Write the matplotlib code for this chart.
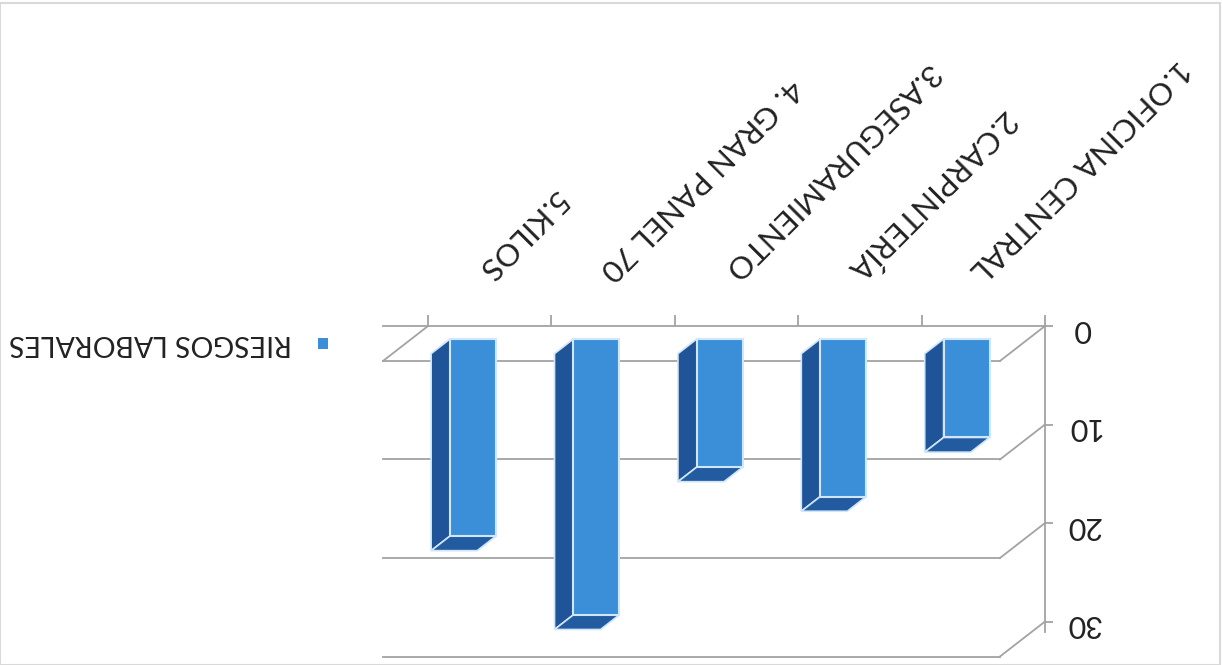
import matplotlib
matplotlib.use("Agg")
import matplotlib.pyplot as plt
from matplotlib.patches import Polygon, Rectangle

categories = ["1.OFICINA CENTRAL", "2.CARPINTERÍA", "3.ASEGURAMIENTO", "4. GRAN PANEL 70", "5.KILOS"]
values = [10, 16, 13, 28, 20]
series_name = "RIESGOS LABORALES"
y_ticks = [0, 10, 20, 30]

FONT = ["Lato", "DejaVu Sans"]
plt.rcParams["font.family"] = FONT

FRONT = "#3a8fd8"
SIDE = "#1f5499"
CAP = "#235ba1"
EDGE = "#cfe6fb"
GRID = "#a3a3a3"
TEXT = "#222222"

# oblique depth offset (data units) and bar placement
DX, DY = 0.365, 3.55
F1, F2 = 0.37, 0.79
W = 0.373

fig = plt.figure(figsize=(12.22, 6.65), dpi=100)
ax = fig.add_axes([383/1222, (665-657)/665, (1045-383)/1222, (657-326)/665])
n = len(categories)
ax.set_xlim(n - 0.5 + DX, -0.5)   # inverted: picture is rotated 180 degrees
ax.set_ylim(y_ticks[-1] + DY + 0.05, 0)  # inverted
ax.set_facecolor("none")

# walls / floor lines
for g in y_ticks:
    ax.plot([-0.5, -0.5 + DX], [g, g + DY], color=GRID, lw=1.3, clip_on=False, zorder=1)
    ax.plot([-0.5 + DX, n - 0.5 + DX], [g + DY, g + DY], color=GRID, lw=1.3, clip_on=False, zorder=1)
ax.plot([n - 0.5, n - 0.5 + DX], [0, DY], color=GRID, lw=1.3, clip_on=False, zorder=1)

# bars
for i, v in enumerate(values):
    xl, xr = i - W/2, i + W/2
    side = Polygon([(xr + F1*DX, F1*DY), (xr + F2*DX, F2*DY),
                    (xr + F2*DX, v + F2*DY), (xr + F1*DX, v + F1*DY)],
                   closed=True, facecolor=SIDE, edgecolor=EDGE, lw=1.2, zorder=3, clip_on=False)
    cap = Polygon([(xl + F1*DX, v + F1*DY), (xr + F1*DX, v + F1*DY),
                   (xr + F2*DX, v + F2*DY), (xl + F2*DX, v + F2*DY)],
                  closed=True, facecolor=CAP, edgecolor=EDGE, lw=1.2, zorder=3, clip_on=False)
    front = Rectangle((xl + F1*DX, F1*DY), W, v, facecolor=FRONT, edgecolor=EDGE,
                      lw=1.5, zorder=4, clip_on=False)
    ax.add_patch(side)
    ax.add_patch(cap)
    ax.add_patch(front)

# spines
for s in ["left", "bottom"]:
    ax.spines[s].set_visible(False)
ax.spines["top"].set_color(GRID)
ax.spines["right"].set_color(GRID)
ax.spines["top"].set_linewidth(1.3)
ax.spines["right"].set_linewidth(1.3)
ax.spines["right"].set_bounds(0, y_ticks[-1] + 1.1)

# category boundary ticks on the front floor edge
ax.xaxis.tick_top()
ax.set_xticks([i - 0.5 for i in range(n + 1)])
ax.set_xticklabels([])
ax.tick_params(axis="x", direction="out", length=8, width=1.3, color=GRID)

# value axis
ax.yaxis.tick_right()
ax.set_yticks(y_ticks)
ax.set_yticklabels([str(t) for t in y_ticks], rotation=180, ha="center",
                   fontsize=22, color=TEXT)
ax.tick_params(axis="y", direction="out", length=6, width=1.3, color=GRID, pad=21)

# category labels (upside down)
for i, lab in enumerate(categories):
    ax.text(i + 0.07, -5.2, lab, rotation=225, rotation_mode="anchor",
            ha="right", va="center", fontsize=22.5, color=TEXT, clip_on=False)

# legend
leg_ax_y = (665 - 343) / 665
fig.patches.append(Rectangle((318/1222, (665-349)/665), 10/1222, 11/665,
                             transform=fig.transFigure, facecolor=FRONT, edgecolor="none"))
fig.text(292/1222, leg_ax_y, series_name, rotation=180, ha="right", va="center",
         fontsize=20.5, color=TEXT)

# chart frame
fig.patches.append(Rectangle((0.0, 0.0), 0.998, 0.995, transform=fig.transFigure,
                             facecolor="none", edgecolor="#d9d9d9", lw=1.5))

fig.savefig("out.png", dpi=100)
